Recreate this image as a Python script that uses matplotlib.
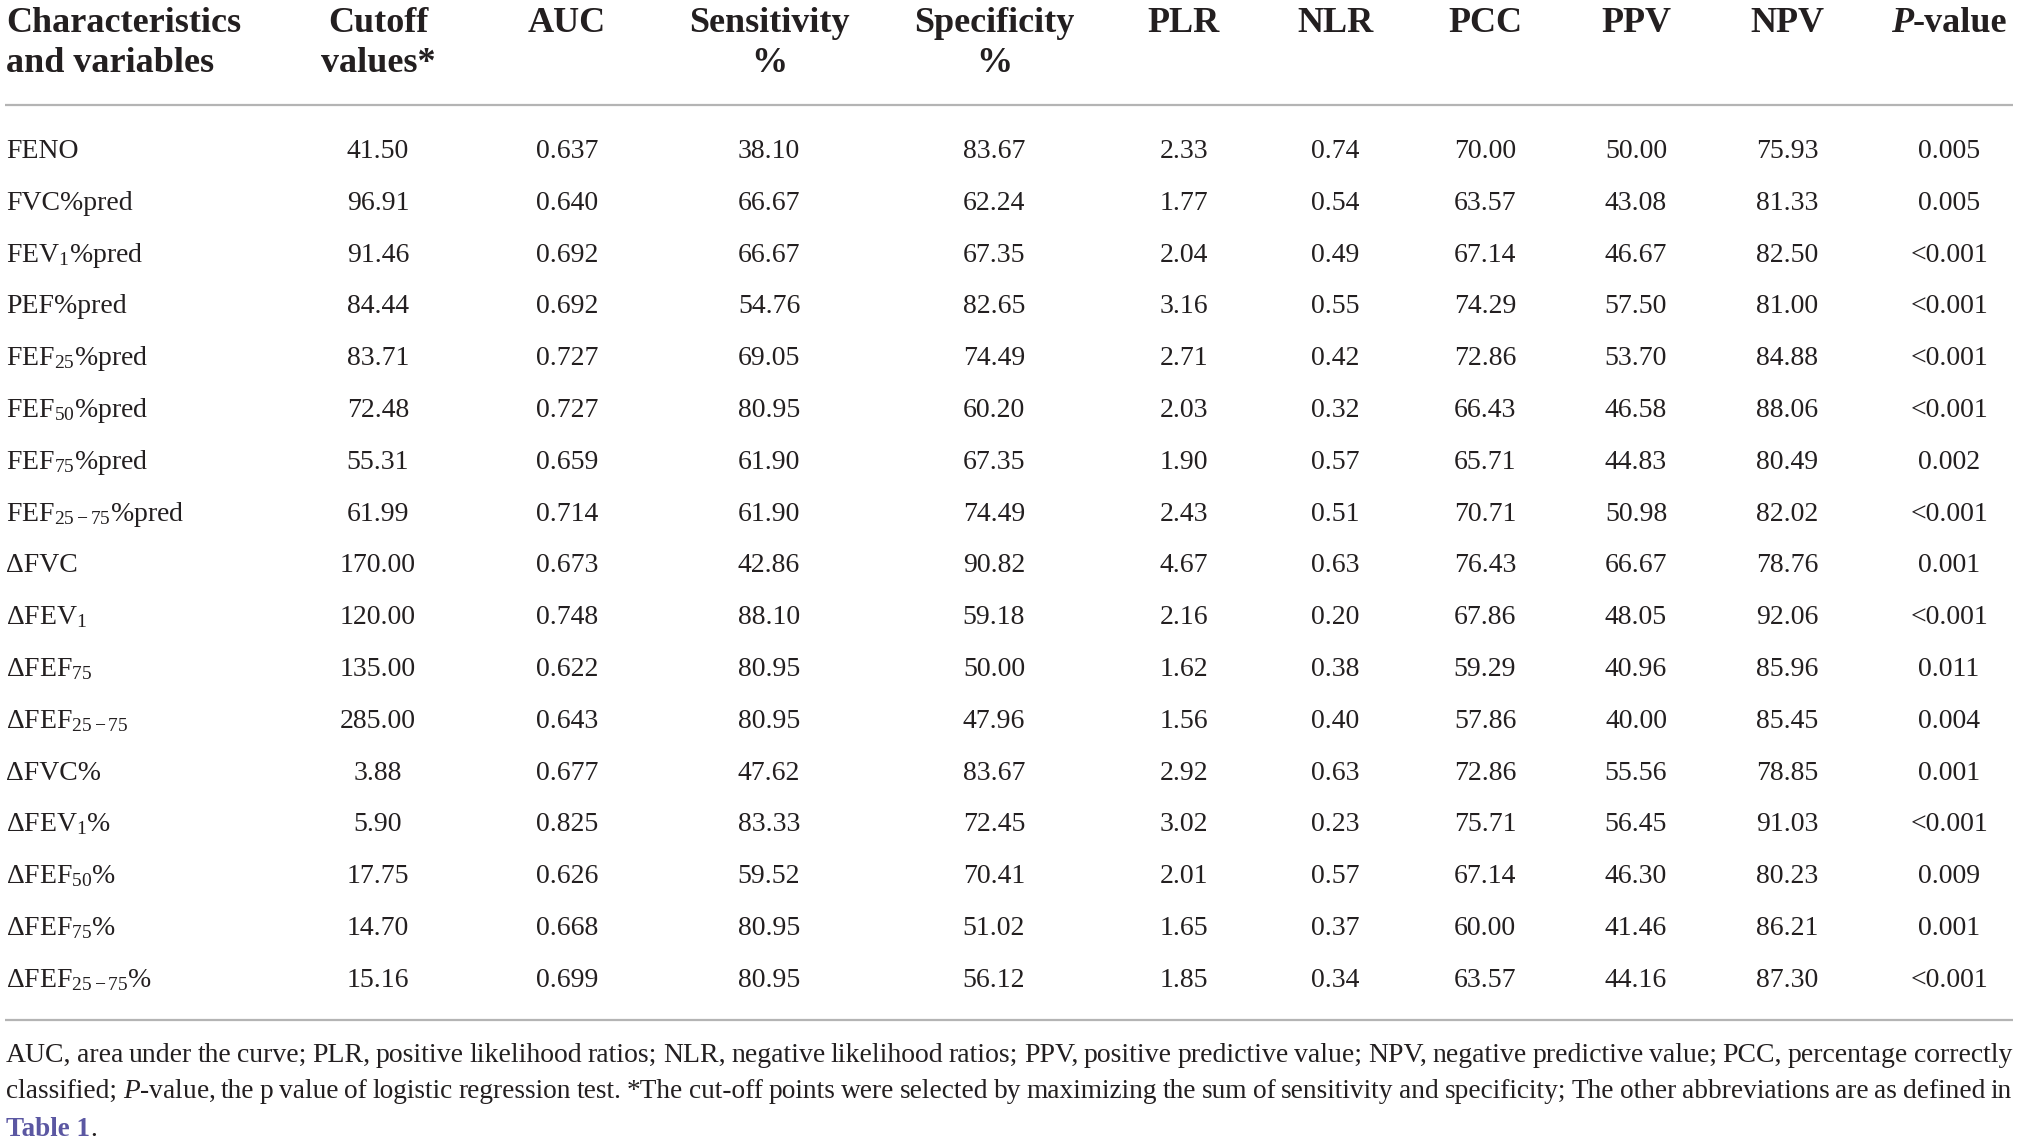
import matplotlib
matplotlib.use('Agg')
from matplotlib import pyplot as plt

plt.rcParams['font.family'] = ['Liberation Serif', 'DejaVu Serif']
plt.rcParams['mathtext.fontset'] = 'custom'
plt.rcParams['mathtext.rm'] = 'Liberation Serif'
plt.rcParams['mathtext.it'] = 'Liberation Serif:italic'
plt.rcParams['mathtext.bf'] = 'Liberation Serif:bold'

# 表格数据
variables = ['FENO', 'FVC%pred', r'FEV$_\mathrm{1}$%pred', 'PEF%pred',
             r'FEF$_\mathrm{25}$%pred', r'FEF$_\mathrm{50}$%pred', r'FEF$_\mathrm{75}$%pred',
             r'FEF$_\mathrm{25-75}$%pred', 'ΔFVC', r'ΔFEV$_\mathrm{1}$', r'ΔFEF$_\mathrm{75}$',
             r'ΔFEF$_\mathrm{25-75}$', 'ΔFVC%', r'ΔFEV$_\mathrm{1}$%', r'ΔFEF$_\mathrm{50}$%',
             r'ΔFEF$_\mathrm{75}$%', r'ΔFEF$_\mathrm{25-75}$%']
cutoff = ['41.50', '96.91', '91.46', '84.44', '83.71', '72.48', '55.31', '61.99', '170.00',
          '120.00', '135.00', '285.00', '3.88', '5.90', '17.75', '14.70', '15.16']
auc = ['0.637', '0.640', '0.692', '0.692', '0.727', '0.727', '0.659', '0.714', '0.673',
       '0.748', '0.622', '0.643', '0.677', '0.825', '0.626', '0.668', '0.699']
sensitivity = ['38.10', '66.67', '66.67', '54.76', '69.05', '80.95', '61.90', '61.90', '42.86',
               '88.10', '80.95', '80.95', '47.62', '83.33', '59.52', '80.95', '80.95']
specificity = ['83.67', '62.24', '67.35', '82.65', '74.49', '60.20', '67.35', '74.49', '90.82',
               '59.18', '50.00', '47.96', '83.67', '72.45', '70.41', '51.02', '56.12']
plr = ['2.33', '1.77', '2.04', '3.16', '2.71', '2.03', '1.90', '2.43', '4.67',
       '2.16', '1.62', '1.56', '2.92', '3.02', '2.01', '1.65', '1.85']
nlr = ['0.74', '0.54', '0.49', '0.55', '0.42', '0.32', '0.57', '0.51', '0.63',
       '0.20', '0.38', '0.40', '0.63', '0.23', '0.57', '0.37', '0.34']
pcc = ['70.00', '63.57', '67.14', '74.29', '72.86', '66.43', '65.71', '70.71', '76.43',
       '67.86', '59.29', '57.86', '72.86', '75.71', '67.14', '60.00', '63.57']
ppv = ['50.00', '43.08', '46.67', '57.50', '53.70', '46.58', '44.83', '50.98', '66.67',
       '48.05', '40.96', '40.00', '55.56', '56.45', '46.30', '41.46', '44.16']
npv = ['75.93', '81.33', '82.50', '81.00', '84.88', '88.06', '80.49', '82.02', '78.76',
       '92.06', '85.96', '85.45', '78.85', '91.03', '80.23', '86.21', '87.30']
pvalue = ['0.005', '0.005', '<0.001', '<0.001', '<0.001', '<0.001', '0.002', '<0.001', '0.001',
          '<0.001', '0.011', '0.004', '0.001', '<0.001', '0.009', '0.001', '<0.001']

headers = [['Characteristics', 'and variables'], ['Cutoff', 'values*'], ['AUC'],
           ['Sensitivity', '%'], ['Specificity', '%'], ['PLR'], ['NLR'], ['PCC'],
           ['PPV'], ['NPV'], ['P-value']]

footnote_1 = ('AUC, area under the curve; PLR, positive likelihood ratios; NLR, negative likelihood '
              'ratios; PPV, positive predictive value; NPV, negative predictive value; PCC, '
              'percentage correctly')
footnote_2 = (r'classified; $\mathit{P}$-value, the p value of logistic regression test. *The cut-off '
              'points were selected by maximizing the sum of sensitivity and specificity; The other '
              'abbreviations are as defined in')

columns = [cutoff, auc, sensitivity, specificity, plr, nlr, pcc, ppv, npv, pvalue]

W, H = 2019, 1142
fig = plt.figure(figsize=(W / 100, H / 100), dpi=100)
ax = fig.add_axes([0, 0, 1, 1])
ax.set_xlim(0, W)
ax.set_ylim(H, 0)
ax.axis('off')
renderer = fig.canvas.get_renderer()

txt_color = '#231f20'
rule_color = '#b4b4b4'
col_x = [378, 567, 769, 994, 1184, 1335, 1485, 1636, 1787, 1949]
left_x = 6
body_fs = 20
head_fs = 26
row0, row_step = 158, 51.8

# 表头
ax.text(left_x, 32, headers[0][0], fontsize=head_fs, fontweight='bold', color=txt_color,
        ha='left', va='baseline')
ax.text(left_x, 72, headers[0][1], fontsize=head_fs, fontweight='bold', color=txt_color,
        ha='left', va='baseline')
for cx, head in zip(col_x[:-1], headers[1:-1]):
    for k, line in enumerate(head):
        ax.text(cx, 32 + 40 * k, line, fontsize=head_fs, fontweight='bold', color=txt_color,
                ha='center', va='baseline')

# P-value：斜体 P + 粗体 -value
tp = ax.text(0, 32, 'P', fontsize=head_fs, fontweight='bold', fontstyle='italic',
             color=txt_color, ha='left', va='baseline')
tv = ax.text(0, 32, '-value', fontsize=head_fs, fontweight='bold', color=txt_color,
             ha='left', va='baseline')
wp = tp.get_window_extent(renderer).width
wv = tv.get_window_extent(renderer).width
start = col_x[-1] - (wp + wv) / 2
tp.set_x(start)
tv.set_x(start + wp)

# 横线
ax.plot([5, 2013], [105, 105], color=rule_color, lw=1.6, solid_capstyle='butt')
ax.plot([5, 2013], [1020, 1020], color=rule_color, lw=1.6, solid_capstyle='butt')

# 表体
for i, name in enumerate(variables):
    y = row0 + row_step * i
    ax.text(left_x, y, name, fontsize=body_fs, color=txt_color, ha='left', va='baseline')
    for cx, col in zip(col_x, columns):
        ax.text(cx, y, col[i], fontsize=body_fs, color=txt_color, ha='center', va='baseline')


# 脚注（两端对齐）
def justify(text, y, x0, x1, fs):
    words = text.split(' ')
    while True:
        arts = [ax.text(0, y, w, fontsize=fs, color=txt_color, ha='left', va='baseline')
                for w in words]
        widths = [a.get_window_extent(renderer).width for a in arts]
        gap = (x1 - x0 - sum(widths)) / (len(words) - 1)
        if gap >= fs * 100 / 72 * 0.2:
            break
        for a in arts:
            a.remove()
        fs -= 0.25
    x = x0
    for a, w in zip(arts, widths):
        a.set_x(x)
        x += w + gap


justify(footnote_1, 1062, 6, 2012, 20.5)
justify(footnote_2, 1098, 6, 2012, 20.5)
t1 = ax.text(6, 1136, 'Table 1', fontsize=19.5, fontweight='bold', color='#5b57a2',
             ha='left', va='baseline')
w1 = t1.get_window_extent(renderer).width
ax.text(6 + w1, 1136, '.', fontsize=19.5, color=txt_color, ha='left', va='baseline')

plt.savefig('out.png', dpi=100)
